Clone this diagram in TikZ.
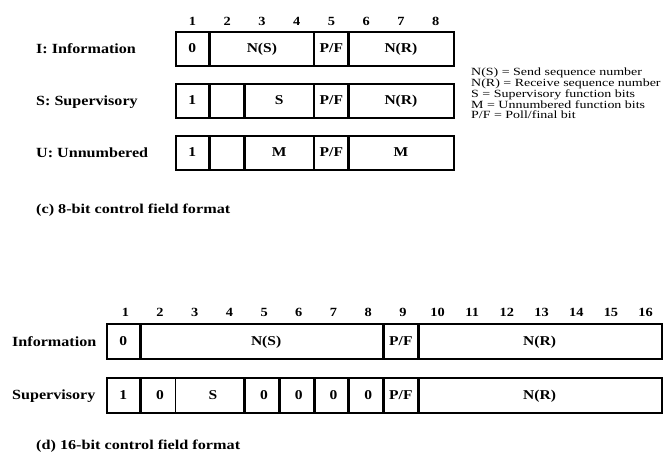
\documentclass[tikz,border=0pt]{standalone}
\usepackage{fontspec}
\setmainfont{Liberation Serif}
\newfontfamily\bfs[FakeStretch=1.15]{Liberation Serif Bold}
\newfontfamily\capfs[FakeStretch=1.2]{Liberation Serif Bold}
\newfontfamily\lgs[FakeStretch=1.27]{Liberation Serif}
\begin{document}
\begin{tikzpicture}[x=1pt,y=-1pt,
  rowbox/.style={draw, line width=1.8pt, anchor=north west, inner sep=0pt, minimum height=34pt},
  lbl/.style={font=\bfs\fontsize{14}{16}\selectfont, anchor=base west, inner sep=0pt},
  capt/.style={font=\capfs\fontsize{13.5}{15}\selectfont, anchor=base west, inner sep=0pt},
  bitno/.style={font=\bfs\fontsize{12.5}{14}\selectfont, anchor=base, inner sep=0pt},
  cell/.style={font=\bfs\fontsize{13.5}{15}\selectfont, anchor=base, inner sep=0pt},
  leg/.style={font=\lgs\fontsize{11}{11}\selectfont, anchor=base west, inner sep=0pt},
  thk/.style={line width=3pt},
  med/.style={line width=2.2pt},
  thn/.style={line width=1.4pt}]
\useasboundingbox (0,0) rectangle (663,453);
\def\wa{34.75}
\def\wb{34.6875}
% ---------- 8-bit section ----------
\foreach \i in {1,...,8}
  \node[bitno] (ta\i) at ({175+(\i-0.5)*\wa},25.7) {\i};
\node[rowbox, minimum width=278pt] (rI) at (175,31) {};
\node[rowbox, minimum width=278pt] (rS) at (175,83) {};
\node[rowbox, minimum width=278pt] (rU) at (175,135) {};
% dividers
\draw[thk] ({175+1*\wa},31) -- ({175+1*\wa},65);
\draw[med] ({175+4*\wa},31) -- ({175+4*\wa},65);
\draw[thk] ({175+5*\wa},31) -- ({175+5*\wa},65);
\foreach \y in {83,135}{
  \draw[thk] ({175+1*\wa},\y) -- ({175+1*\wa},\y+34);
  \draw[med] ({175+2*\wa},\y) -- ({175+2*\wa},\y+34);
  \draw[med] ({175+4*\wa},\y) -- ({175+4*\wa},\y+34);
  \draw[thk] ({175+5*\wa},\y) -- ({175+5*\wa},\y+34);
}
% labels
\node[lbl] (lI) at (36,53) {I: Information};
\node[lbl] (lS) at (36,105) {S: Supervisory};
\node[lbl] (lU) at (36,157) {U: Unnumbered};
% cell texts
\node[cell] (i0) at ({175+0.5*\wa},52.6) {0};
\node[cell] (ins) at ({175+2.5*\wa},52.6) {N(S)};
\node[cell] (ipf) at ({175+4.5*\wa},52.6) {P/F};
\node[cell] (inr) at ({175+6.5*\wa},52.6) {N(R)};
\node[cell] (s1) at ({175+0.5*\wa},104.6) {1};
\node[cell] (ss) at ({175+3*\wa},104.6) {S};
\node[cell] (spf) at ({175+4.5*\wa},104.6) {P/F};
\node[cell] (snr) at ({175+6.5*\wa},104.6) {N(R)};
\node[cell] (u1) at ({175+0.5*\wa},156.6) {1};
\node[cell] (um) at ({175+3*\wa},156.6) {M};
\node[cell] (upf) at ({175+4.5*\wa},156.6) {P/F};
\node[cell] (um2) at ({175+6.5*\wa},156.6) {M};
% legend
\node[leg] (g1) at (471,75.7) {N(S) = Send sequence number};
\node[leg] (g2) at (471,86.5) {N(R) = Receive sequence number};
\node[leg] (g3) at (471,97.3) {S = Supervisory function bits};
\node[leg] (g4) at (471,108.1) {M = Unnumbered function bits};
\node[leg] (g5) at (471,118.9) {P/F = Poll/final bit};
\node[capt] (cc) at (36,213.5) {(c) 8-bit control field format};
% ---------- 16-bit section ----------
\foreach \i in {1,...,16}
  \node[bitno] (tb\i) at ({108+(\i-0.5)*\wb},316) {\i};
\node[rowbox, minimum width=555pt, minimum height=35pt] (rInf) at (106,323) {};
\node[rowbox, minimum width=555pt, minimum height=35pt] (rSup) at (106,377) {};
\foreach \k in {1,8,9}
  \draw[thk] ({106+\k*\wb},323) -- ({106+\k*\wb},358);
\draw[thk] ({106+1*\wb},377) -- ({106+1*\wb},412);
\draw[thn] ({106+2*\wb},377) -- ({106+2*\wb},412);
\foreach \k in {4,...,9}
  \draw[thk] ({106+\k*\wb},377) -- ({106+\k*\wb},412);
\node[lbl] (lInf) at (12,346) {Information};
\node[lbl] (lSup) at (12,399.5) {Supervisory};
\node[cell] (f0) at ({106+0.5*\wb},345.1) {0};
\node[cell] (fns) at ({106+4.5*\wb+4},345.1) {N(S)};
\node[cell] (fpf) at ({106+8.5*\wb},345.1) {P/F};
\node[cell] (fnr) at ({106+12.5*\wb},345.1) {N(R)};
\node[cell] (v1) at ({106+0.5*\wb},399.1) {1};
\node[cell] (v0) at ({106+1.5*\wb+2},399.1) {0};
\node[cell] (vs) at ({106+3*\wb+3},399.1) {S};
\foreach \k in {5,...,8}
  \node[cell] (vz\k) at ({106+(\k-0.5)*\wb+2},399.1) {0};
\node[cell] (vpf) at ({106+8.5*\wb},399.1) {P/F};
\node[cell] (vnr) at ({106+12.5*\wb},399.1) {N(R)};
\node[capt] (cd) at (36,449) {(d) 16-bit control field format};
\end{tikzpicture}
\end{document}
